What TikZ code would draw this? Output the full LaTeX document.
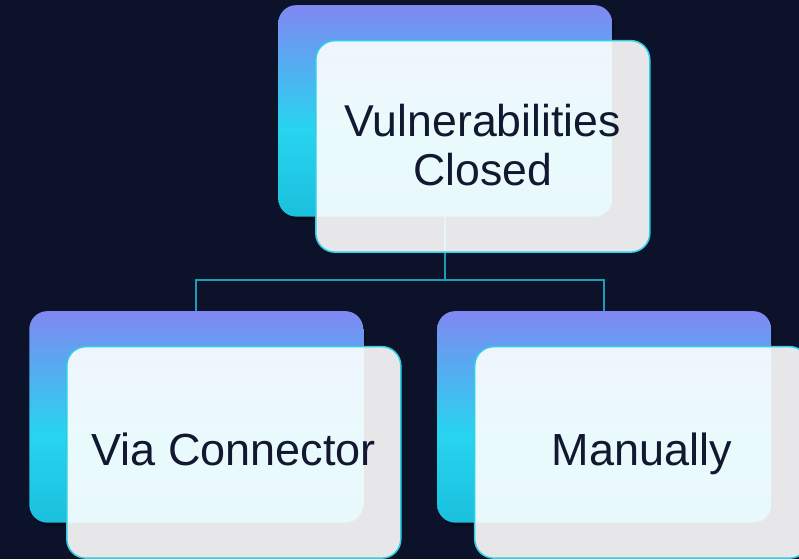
\documentclass[tikz,border=0pt]{standalone}
\usepackage{fontspec}
\setmainfont{Liberation Sans}
\usetikzlibrary{shadows}
\definecolor{bgnavy}{HTML}{0B1229}
\definecolor{gtop}{HTML}{7F88F2}
\definecolor{gmid}{HTML}{28D4F0}
\definecolor{gbot}{HTML}{1AC0DD}
\definecolor{cardedge}{HTML}{2CCFE6}
\definecolor{linkcol}{HTML}{1C9DB4}
\definecolor{ink}{HTML}{111830}
\pgfdeclareverticalshading{cardgrad}{100bp}{color(0bp)=(gbot); color(25bp)=(gbot); color(46bp)=(gmid); color(75bp)=(gtop); color(100bp)=(gtop)}
\begin{document}
\begin{tikzpicture}[x=1pt,y=-1pt,
  backcard/.style={rectangle, rounded corners=18pt, minimum width=334pt, minimum height=211.5pt,
    inner sep=0pt, shading=cardgrad,
    drop shadow={shadow xshift=2pt, shadow yshift=-3pt, opacity=0.35, fill=black}},
  frontcard/.style={rectangle, rounded corners=19pt, minimum width=334pt, minimum height=211.5pt,
    inner sep=0pt, fill=white, fill opacity=0.9, text opacity=1, draw=cardedge, draw opacity=1,
    line width=1.5pt, text=ink, align=center},
  toptext/.style={font=\fontsize{44.6}{49.5}\selectfont},
  lowtext/.style={font=\fontsize{45}{52}\selectfont, text height=32.2pt, text depth=6pt},
  connector/.style={draw=linkcol, line width=2.2pt}]
\fill[bgnavy] (0,0) rectangle (799,559);
\useasboundingbox (0,0) rectangle (799,559);

% back cards
\node[backcard] (tb) at (445.3,110.9) {};
\node[backcard] (bl) at (196.3,416.9) {};
\node[backcard] (br) at (604.2,416.9) {};
\coordinate (junction) at (445.3,280);

% connectors
\draw[connector] (tb.south) -- (junction);
\draw[connector] (junction) -| (bl.north);
\draw[connector] (junction) -| (br.north);

% front cards with text
\node[frontcard, toptext] (tf) at (482.8,146.4) {Vulnerabilities\\Closed\rule[-3.4pt]{0pt}{0pt}};
\node[frontcard, lowtext] (blf) at (233.8,452.4) {Via Connector};
\node[frontcard, lowtext] (brf) at (641.7,452.4) {Manually};
\end{tikzpicture}
\end{document}
